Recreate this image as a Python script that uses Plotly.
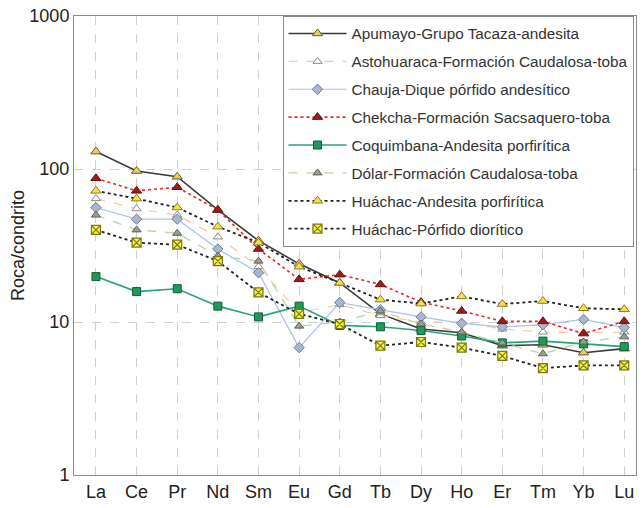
import plotly.graph_objects as go

# Chondrite-normalised REE values (Roca/condrito)
elements = ["La", "Ce", "Pr", "Nd", "Sm", "Eu", "Gd", "Tb", "Dy", "Ho", "Er", "Tm", "Yb", "Lu"]

apumayo = [130, 97, 89, 54, 34, 24, 18, 11.3, 9.0, 8.5, 7.0, 7.1, 6.3, 6.7]
astohuaraca = [64, 55, 50, 36, 23, 11.5, 13, 11, 10, 10, 9.0, 8.6, 8.5, 8.6]
chauja = [56, 47, 47, 30, 21, 6.8, 13.4, 12, 10.8, 9.8, 9.3, 9.6, 10.4, 9.2]
chekcha = [87, 72, 76, 54, 30, 19, 20.4, 17.6, 13.5, 11.8, 10.1, 10.1, 8.4, 10.1]
coquimbana = [19.8, 15.8, 16.5, 12.7, 10.8, 12.7, 9.5, 9.3, 8.8, 8.1, 7.3, 7.5, 7.2, 6.9]
dolar = [50, 40, 38, 27, 25, 9.4, 10, 11.8, 9.7, 8.6, 7.3, 6.2, 7.4, 8.0]
huachac_and = [72, 64, 56, 42, 33, 23, 18, 14.0, 13.2, 14.7, 13.1, 13.7, 12.3, 12.1]
huachac_porf = [40, 33, 32, 25, 15.6, 11.3, 9.7, 7.0, 7.4, 6.8, 6.0, 5.0, 5.2, 5.2]

series = [
    ("Apumayo-Grupo Tacaza-andesita", apumayo,
     dict(color="#3a3a3a", width=1.6, dash="solid"),
     dict(symbol="triangle-up", color="#e3cf6a", size=9, line=dict(color="#6e5e22", width=1))),
    ("Astohuaraca-Formación Caudalosa-toba", astohuaraca,
     dict(color="#f5c8a0", width=1.2, dash="dash"),
     dict(symbol="triangle-up", color="#ffffff", size=8, line=dict(color="#8a8a8a", width=1))),
    ("Chauja-Dique pórfido andesítico", chauja,
     dict(color="#a9c4e4", width=1.2, dash="solid"),
     dict(symbol="diamond", color="#aab6cc", size=8, line=dict(color="#6f7c99", width=1))),
    ("Chekcha-Formación Sacsaquero-toba", chekcha,
     dict(color="#e8262c", width=1.6, dash="dot"),
     dict(symbol="triangle-up", color="#9a1c1c", size=9, line=dict(color="#6e1010", width=1))),
    ("Coquimbana-Andesita porfirítica", coquimbana,
     dict(color="#2aa27c", width=1.6, dash="solid"),
     dict(symbol="square", color="#1f9a5c", size=8, line=dict(color="#0f5c36", width=1))),
    ("Dólar-Formación Caudalosa-toba", dolar,
     dict(color="#bcd9a4", width=1.4, dash="dash"),
     dict(symbol="triangle-up", color="#9c9e90", size=8, line=dict(color="#5e6058", width=1))),
    ("Huáchac-Andesita porfirítica", huachac_and,
     dict(color="#222222", width=1.8, dash="dot"),
     dict(symbol="triangle-up", color="#f2e24a", size=9, line=dict(color="#8a7a22", width=1))),
    ("Huáchac-Pórfido diorítico", huachac_porf,
     dict(color="#222222", width=1.8, dash="dot"),
     dict(symbol="square-x", color="#f4f24a", size=9, line=dict(color="#7a7a10", width=1.2))),
]

fig = go.Figure()
for name, vals, line, marker in series:
    fig.add_trace(go.Scatter(
        x=elements, y=vals, name=name, legendgroup=name,
        mode="lines+markers", line=line, marker=marker,
    ))

font = "Liberation Sans, Arial, sans-serif"

fig.update_layout(
    width=643, height=508,
    margin=dict(l=74, r=6, t=13, b=30),
    paper_bgcolor="white", plot_bgcolor="white",
    font=dict(family=font, color="#222222", size=18),
    legend=dict(
        x=0.371, y=1.0, xanchor="left", yanchor="top",
        bgcolor="white", bordercolor="#8a8a8a", borderwidth=1,
        font=dict(size=15.3, color="#333333"),
        tracegroupgap=5, itemwidth=58,
    ),
)

fig.update_xaxes(
    range=[-0.54, 13.29],
    showline=True, linecolor="#8c8c8c", linewidth=1, mirror=True,
    showgrid=True, gridcolor="#d0d0d0", griddash="dash", gridwidth=1,
    tickfont=dict(size=18), ticks="", zeroline=False,
)
fig.update_yaxes(
    type="log", range=[0, 3],
    tickvals=[1, 10, 100, 1000], ticktext=["1", "10", "100", "1000"],
    showline=True, linecolor="#8c8c8c", linewidth=1, mirror=True,
    showgrid=True, gridcolor="#d0d0d0", griddash="dash", gridwidth=1,
    tickfont=dict(size=18), ticks="", zeroline=False,
    title=dict(text="Roca/condrito", font=dict(size=18), standoff=0),
)

# drop the page's default body margin so the figure sits at the window's corner
fig.write_html("out.html", config={"displayModeBar": False},
               post_script="document.body.style.margin='0';")
